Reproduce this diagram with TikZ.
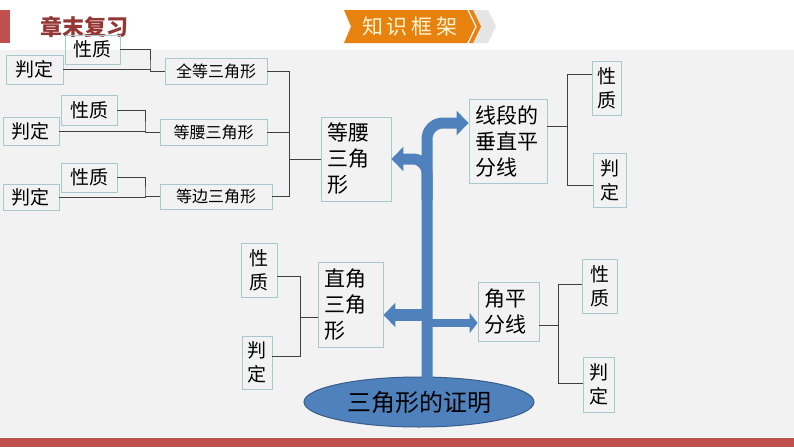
\documentclass[tikz,border=0pt]{standalone}
\usepackage{fontspec}
\setmainfont{Noto Sans CJK SC}
\usetikzlibrary{arrows.meta,shapes.geometric}
\definecolor{bggrey}{HTML}{F2F2F2}
\definecolor{barred}{HTML}{C0504D}
\definecolor{titlered}{HTML}{943634}
\definecolor{bannerorange}{HTML}{E8820E}
\definecolor{bannertext}{HTML}{FFF4D4}
\definecolor{boxline}{HTML}{A7C9CE}
\definecolor{arrowblue}{HTML}{4F81BD}
\definecolor{ellline}{HTML}{385D8A}
\tikzset{
  box/.style={draw=boxline, line width=0.9pt, inner sep=0pt, font=\fontsize{19}{24}\selectfont},
  vbox/.style={box, align=center},
  smallbox/.style={box, font=\fontsize{16}{16}\selectfont},
  bigbox/.style={draw=boxline, line width=0.9pt, inner sep=6pt, align=left, font=\fontsize{21}{26}\selectfont},
  link/.style={draw=black!75, line width=0.8pt},
  bluearrow/.style={draw=arrowblue, line width=11pt, -{Triangle[width=24pt,length=12pt]}},
}
\begin{document}
\begin{tikzpicture}[x=1pt,y=-1pt]
	\useasboundingbox (0,0) rectangle (794,447);
	\fill[white] (0,0) rectangle (794,50);
	\fill[bggrey] (0,50) rectangle (794,437);
	\fill[barred] (0,438) rectangle (794,447);
	\fill[barred] (0,10) rectangle (10,43);
	\node[font=\fontsize{22}{22}\selectfont\bfseries, text=titlered] (title) at (84.5,27) {章末复习};
	\fill[black!10] (470,10) -- (488,10) -- (496,26.5) -- (488,43) -- (470,43) -- cycle;
	\fill[bannerorange] (344,10) -- (473,10) -- (481,26.5) -- (473,43) -- (344,43) -- (351,26.5) -- cycle;
	\draw[white, line width=1.2pt] (468,10) -- (476,26.5) -- (468,43);
	\node[text=bannertext, font=\fontsize{21}{21}\selectfont] (banner) at (410,27) {知\kern4pt 识\kern4pt 框\kern4pt 架};

	\node[box, minimum width=55pt, minimum height=29pt] (xz1) at (92.5,49.5) {性质};
	\node[box, minimum width=57pt, minimum height=29pt] (pd1) at (34.5,69.5) {判定};
	\node[smallbox, minimum width=102pt, minimum height=26pt] (qd) at (216,71) {全等三角形};
	\node[box, minimum width=56pt, minimum height=30pt] (xz2) at (89,110) {性质};
	\node[box, minimum width=56pt, minimum height=28pt] (pd2) at (31,131) {判定};
	\node[smallbox, minimum width=107pt, minimum height=26pt] (dy) at (213.5,132) {等腰三角形};
	\node[box, minimum width=56pt, minimum height=29pt] (xz3) at (89,177.5) {性质};
	\node[box, minimum width=56pt, minimum height=26pt] (pd3) at (31,197) {判定};
	\node[smallbox, minimum width=112pt, minimum height=25pt] (db) at (216,196.5) {等边三角形};

	\node[bigbox, text width=58pt, minimum height=84pt] (dyb) at (356,159) {等腰\\三角\\形};
	\node[bigbox, text width=66pt, minimum height=84pt] (xd) at (508,141) {线段的\\垂直平\\分线};
	\node[vbox, minimum width=29pt, minimum height=54pt] (xz4) at (606.5,88) {性\\质};
	\node[vbox, minimum width=33pt, minimum height=54pt] (pd4) at (609.5,180) {判\\定};

	\node[bigbox, text width=53pt, minimum height=85pt] (zj) at (350.5,304.5) {直角\\三角\\形};
	\node[vbox, minimum width=36pt, minimum height=54pt] (xz5) at (259,270) {性\\质};
	\node[vbox, minimum width=30pt, minimum height=53pt] (pd5) at (257,362.5) {判\\定};
	\node[bigbox, text width=49pt, minimum height=59pt] (jp) at (508.5,311.5) {角平\\分线};
	\node[vbox, minimum width=35pt, minimum height=54pt] (xz6) at (599.5,286) {性\\质};
	\node[vbox, minimum width=31pt, minimum height=55pt] (pd6) at (598.5,384.5) {判\\定};

	\node[ellipse, draw=ellline, fill=arrowblue, line width=1pt, minimum width=230pt, minimum height=50pt, inner sep=0pt, font=\fontsize{24}{24}\selectfont] (zm) at (419,402) {三角形的证明};

	\coordinate (k1) at (150,71);
	\coordinate (k2) at (145,132);
	\coordinate (k3) at (145,196.5);
	\coordinate (k4) at (289,159);
	\coordinate (k5) at (567,126);
	\coordinate (k6) at (300,317);
	\coordinate (k7) at (558,325);
	\draw[link] (xz1.east) -| (k1) |- (pd1.east);
	\draw[link] (k1) -- (qd.west);
	\draw[link] (xz2.east) -| (k2) |- (pd2.east);
	\draw[link] (k2) -- (dy.west);
	\draw[link] (xz3.east) -| (k3) |- (pd3.east);
	\draw[link] (k3) -- (db.west);
	\draw[link] (qd.east) -| (k4);
	\draw[link] (db.east) -| (k4);
	\draw[link] (dy.east) -- (dy.east -| k4);
	\draw[link] (k4) -- (dyb.west);
	\draw[link] (xd.east |- k5) -- (k5);
	\draw[link] (xz4.west |- 0,74) -| (567,185) -- (pd4.west |- 0,185);
	\draw[link] (k6) -- (zj.west |- k6);
	\draw[link] (xz5.east |- 0,276) -| (300,356) -- (pd5.east |- 0,356);
	\draw[link] (jp.east |- k7) -- (k7);
	\draw[link] (xz6.west |- 0,284) -| (558,383) -- (pd6.west |- 0,383);

	\draw[bluearrow, line width=12pt, -{Triangle[width=24pt,length=12pt]}] (427,315) -- (zj.east |- 0,315);
	\draw[bluearrow, line width=8pt, -{Triangle[width=20pt,length=8pt]}] (427,323) -- (jp.west |- 0,323);
	\draw[bluearrow, rounded corners=16pt] (427,200) |- ([yshift=18pt]xd.west);
	\draw[bluearrow, rounded corners=14pt] ([xshift=8pt,yshift=-8pt]zm.north) |- (dyb.east);
\end{tikzpicture}
\end{document}
